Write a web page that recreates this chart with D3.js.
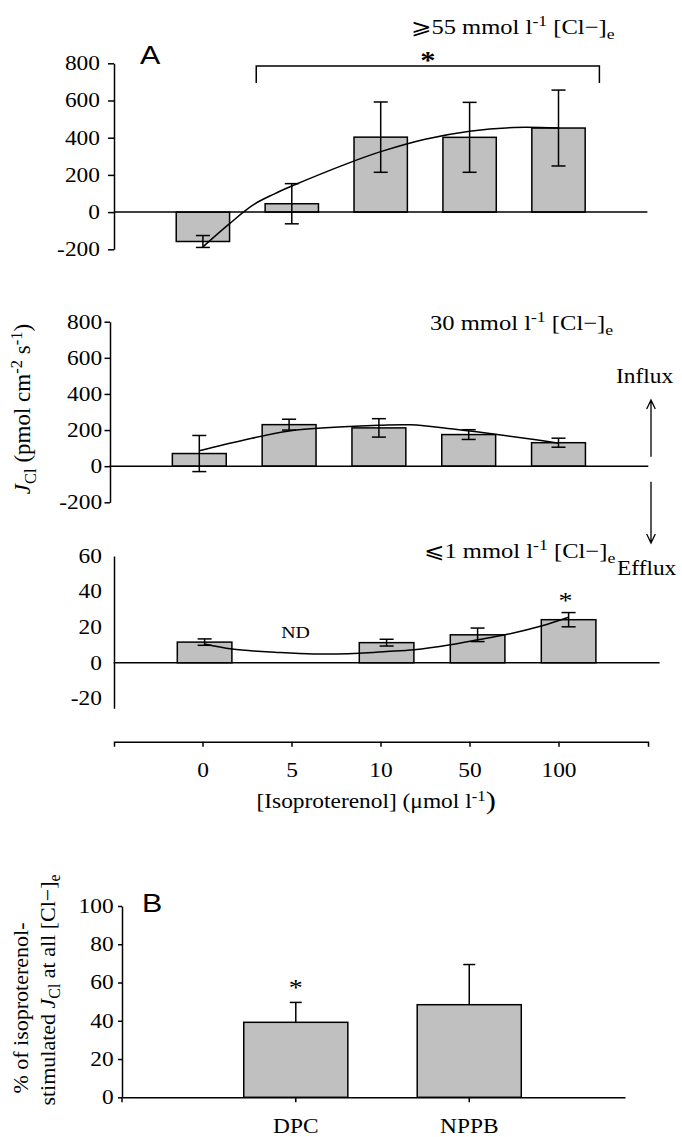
<!DOCTYPE html>
<html>
<head>
<meta charset="utf-8">
<script src="https://cdn.jsdelivr.net/npm/d3@7"></script>
<style>
  body { margin: 0; background: #fff; }
  svg { display: block; }
</style>
</head>
<body>
<svg id="chart" width="682" height="1137"></svg>
<script>
// ---- data ----
const doses = ["0", "5", "10", "50", "100"];

// >=55 mmol l-1 [Cl-]e
const highMean = [-158, 45, 403, 402, 452];
const highErr = [32, 108, 189, 188, 204];
// fitted curve: [dose position, J_Cl]
const highFit = [[0, -187], [0.3, -62], [0.57, 40], [0.8, 97], [1, 140], [1.63, 262], [2, 325], [2.5, 392], [3, 435], [3.5, 455], [4, 452]];

// 30 mmol l-1 [Cl-]e
const midMean = [70, 230, 212, 175, 130];
const midErr = [100, 30, 51, 27, 25];
const midFit = [[0, 85], [0.5, 145], [1, 195], [1.5, 215], [2, 226], [2.35, 229], [2.85, 204], [3.4, 170], [3.75, 146], [4, 127]];

// <=1 mmol l-1 [Cl-]e (5 umol l-1 not determined)
const lowMean = [11.6, null, 11.3, 15.7, 24.2];
const lowErr = [1.8, null, 1.9, 3.8, 4.0];
const lowFit = [[0, 10.5], [0.3, 7.7], [0.8, 5.8], [1.2, 4.9], [1.7, 5.4], [2, 6.3], [2.3, 7.3], [2.7, 10.1], [3, 12.9], [3.3, 15.7], [3.7, 20.7], [4, 25.6]];

const fluxTicks = [-200, 0, 200, 400, 600, 800];
const lowTicks = [-20, 0, 20, 40, 60];

// Panel B: blockers
const blockers = ["DPC", "NPPB"];
const blockMean = [39.2, 48.4];
const blockErr = [10.4, 21.0];
const blockTicks = [0, 20, 40, 60, 80, 100];

// ---- helpers ----
const SERIF = '"Liberation Serif","Times New Roman",serif';
const SANS = '"Liberation Sans",Arial,sans-serif';
const SX = 1.17;           // horizontal glyph stretch
const FILL = "#c0c0c0";
const SW = 1.5;
const plain = d => String(d);   // tick labels with an ASCII hyphen

const svg = d3.select("#chart");

function rich(t, parts, fs) {
  let shift = 0;
  (typeof parts === "string" ? [[parts]] : parts).forEach(p => {
    const [str, kind] = Array.isArray(p) ? p : [p];
    const ts = t.append("tspan").text(str);
    let target = 0;
    if (kind === "sup") { target = -0.36 * fs; ts.attr("font-size", fs * 0.72); }
    else if (kind === "sub") { target = 0.24 * fs; ts.attr("font-size", fs * 0.72); }
    else if (kind === "big") { target = 0.06 * fs; ts.attr("font-size", fs * 1.3); }
    else if (kind === "i") { ts.attr("font-style", "italic"); }
    if (target - shift !== 0) ts.attr("dy", target - shift);
    shift = target;
  });
}

function label(x, y, parts, fs, opts = {}) {
  const t = svg.append("text")
    .attr("transform", `translate(${x},${y})` + (opts.rotate ? ` rotate(${opts.rotate})` : "") + ` scale(${opts.sx ?? SX},1)`)
    .attr("font-size", fs)
    .attr("font-family", opts.family || SERIF)
    .attr("font-weight", opts.weight || "normal")
    .attr("text-anchor", opts.anchor || "start")
    .attr("fill", "#000");
  rich(t, parts, fs);
  return t;
}

function styleAxis(g, fs) {
  g.attr("font-family", SERIF).attr("font-size", fs);
  g.selectAll("path, line").attr("stroke", "#000").attr("stroke-width", SW);
  g.selectAll("text").attr("fill", "#000").attr("transform", `scale(${SX},1)`);
}

function bandX(range) {
  return d3.scaleBand().domain(doses).range(range).paddingInner(0.4).paddingOuter(0.7);
}

function fluxPanel(cfg) {
  const x = bandX(cfg.xRange);
  const y = d3.scaleLinear().domain(cfg.yDomain).range(cfg.yRange);
  const g = svg.append("g");

  // y axis
  const ya = g.append("g").attr("transform", `translate(${cfg.axisX},0)`)
    .call(d3.axisLeft(y).tickValues(cfg.ticks).tickSize(cfg.tickSize).tickPadding(cfg.tickPad).tickSizeOuter(0).tickFormat(plain));
  styleAxis(ya, 20);

  // bars
  const rows = doses.map((d, i) => ({ d, v: cfg.mean[i], e: cfg.err[i] })).filter(r => r.v != null);
  g.selectAll("rect.bar").data(rows).join("rect")
    .attr("x", r => x(r.d)).attr("width", x.bandwidth())
    .attr("y", r => Math.min(y(r.v), y(0)))
    .attr("height", r => Math.abs(y(r.v) - y(0)))
    .attr("fill", FILL).attr("stroke", "#000").attr("stroke-width", SW);

  // zero line
  g.append("line")
    .attr("x1", x.range()[0]).attr("x2", x.range()[1])
    .attr("y1", y(0)).attr("y2", y(0))
    .attr("stroke", "#000").attr("stroke-width", SW);

  // error bars
  const cx = r => x(r.d) + x.bandwidth() / 2;
  const eb = g.selectAll("g.err").data(rows).join("g").attr("stroke", "#000").attr("stroke-width", SW);
  eb.append("line").attr("x1", cx).attr("x2", cx).attr("y1", r => y(r.v - r.e)).attr("y2", r => y(r.v + r.e));
  eb.append("line").attr("x1", r => cx(r) - 7).attr("x2", r => cx(r) + 7).attr("y1", r => y(r.v + r.e)).attr("y2", r => y(r.v + r.e));
  eb.append("line").attr("x1", r => cx(r) - 7).attr("x2", r => cx(r) + 7).attr("y1", r => y(r.v - r.e)).attr("y2", r => y(r.v - r.e));

  // fitted curve
  const fx = p => x(doses[0]) + x.bandwidth() / 2 + p * x.step();
  g.append("path").datum(cfg.fit)
    .attr("d", d3.line().x(p => fx(p[0])).y(p => y(p[1])).curve(d3.curveCatmullRom))
    .attr("fill", "none").attr("stroke", "#000").attr("stroke-width", SW);

  return { x, y, fx };
}

// ---- Panel A, upper: >=55 mmol ----
const upper = fluxPanel({
  xRange: [114, 647.4], axisX: 114, yDomain: [-200, 800], yRange: [249.3, 63.3],
  ticks: fluxTicks, tickSize: 6, tickPad: 6, mean: highMean, err: highErr, fit: highFit
});
label(411, 34, [["⩾55 mmol l"], ["-1", "sup"], [" [Cl−]"], ["e", "sub"]], 21);
label(140, 64, "A", 26, { family: SANS });
// significance bracket over 5-100 umol l-1
svg.append("path")
  .attr("d", `M${upper.fx(0.6)},83 V66 H${upper.fx(4.46)} V83`)
  .attr("fill", "none").attr("stroke", "#000").attr("stroke-width", SW);
label(upper.fx(2.53), 69, "*", 26, { anchor: "middle", weight: "bold" });

// ---- Panel A, middle: 30 mmol ----
fluxPanel({
  xRange: [109.5, 648.3], axisX: 110, yDomain: [-200, 800], yRange: [502.3, 321.7],
  ticks: fluxTicks, tickSize: 5.5, tickPad: 1.2, mean: midMean, err: midErr, fit: midFit
});
label(430, 330, [["30 mmol l"], ["-1", "sup"], [" [Cl−]"], ["e", "sub"]], 21);
label(30, 409, [["J", "i"], ["Cl", "sub"], [" (pmol cm"], ["-2", "sup"], [" s"], ["-1", "sup"], [")"]], 23, { rotate: -90, sx: 1, anchor: "middle" });

// influx / efflux arrows
label(616, 383, "Influx", 20);
label(617, 575, "Efflux", 20);
svg.append("path")
  .attr("d", "M651,456.7 V400 M646.7,409 L651,400 L655.3,409")
  .attr("fill", "none").attr("stroke", "#000").attr("stroke-width", 1.3);
svg.append("path")
  .attr("d", "M651,481.7 V543 M646.7,534 L651,543 L655.3,534")
  .attr("fill", "none").attr("stroke", "#000").attr("stroke-width", 1.3);

// ---- Panel A, lower: <=1 mmol ----
const lower = fluxPanel({
  xRange: [113.6, 659.6], axisX: 114, yDomain: [-25.6, 60], yRange: [708.3, 556],
  ticks: lowTicks, tickSize: 0, tickPad: 10.3, mean: lowMean, err: lowErr, fit: lowFit
});
label(424, 558, [["⩽1 mmol l"], ["-1", "sup"], [" [Cl−]"], ["e", "sub"]], 21);
label(lower.fx(1), 638, "ND", 17, { anchor: "middle" });
label(lower.fx(4) - 3, 608, "*", 24, { anchor: "middle" });

// shared dose axis
const xDose = bandX([114, 648]);
const xa = svg.append("g").attr("transform", "translate(0,741.7)")
  .call(d3.axisBottom(xDose).tickSize(5).tickSizeOuter(5).tickPadding(15.8));
styleAxis(xa, 20);
label(256.5, 808, [["[Isoproterenol] (μmol l"], ["-1", "sup"], [")", "big"]], 20);

// ---- Panel B ----
const xb = d3.scaleBand().domain(blockers).range([122, 625]).paddingInner(0.4).paddingOuter(0.65).align(0.54);
const yb = d3.scaleLinear().domain([0, 100]).range([1097.3, 906]);
const gb = svg.append("g");

const ybA = gb.append("g").attr("transform", "translate(122,0)")
  .call(d3.axisLeft(yb).tickValues(blockTicks).tickSize(4).tickPadding(3.2).tickSizeOuter(0).tickFormat(plain));
styleAxis(ybA, 20);

const bRows = blockers.map((d, i) => ({ d, v: blockMean[i], e: blockErr[i] }));
const bcx = r => xb(r.d) + xb.bandwidth() / 2;
gb.selectAll("line.eb").data(bRows).join("line")
  .attr("x1", bcx).attr("x2", bcx).attr("y1", r => yb(r.v)).attr("y2", r => yb(r.v + r.e))
  .attr("stroke", "#000").attr("stroke-width", SW);
gb.selectAll("line.cap").data(bRows).join("line")
  .attr("x1", r => bcx(r) - 6).attr("x2", r => bcx(r) + 6).attr("y1", r => yb(r.v + r.e)).attr("y2", r => yb(r.v + r.e))
  .attr("stroke", "#000").attr("stroke-width", SW);
gb.selectAll("rect.bar").data(bRows).join("rect")
  .attr("x", r => xb(r.d)).attr("width", xb.bandwidth())
  .attr("y", r => yb(r.v)).attr("height", r => yb(0) - yb(r.v))
  .attr("fill", FILL).attr("stroke", "#000").attr("stroke-width", SW);

const xbA = gb.append("g").attr("transform", "translate(0,1097.3)")
  .call(d3.axisBottom(xb).tickSize(5).tickSizeOuter(0).tickPadding(16.5));
styleAxis(xbA, 20);
xbA.append("line").attr("x1", xb.range()[0]).attr("x2", xb.range()[0]).attr("y1", 0).attr("y2", 5)
  .attr("stroke", "#000").attr("stroke-width", SW);

label(142, 912, "B", 26, { family: SANS });
label(bcx(bRows[0]), 995, "*", 24, { anchor: "middle" });
label(28, 1008, "% of isoproterenol-", 22, { rotate: -90, sx: 1, anchor: "middle" });
label(55, 990, [["stimulated "], ["J", "i"], ["Cl", "sub"], [" at all [Cl−]"], ["e", "sub"]], 22, { rotate: -90, sx: 1, anchor: "middle" });
</script>
</body>
</html>
